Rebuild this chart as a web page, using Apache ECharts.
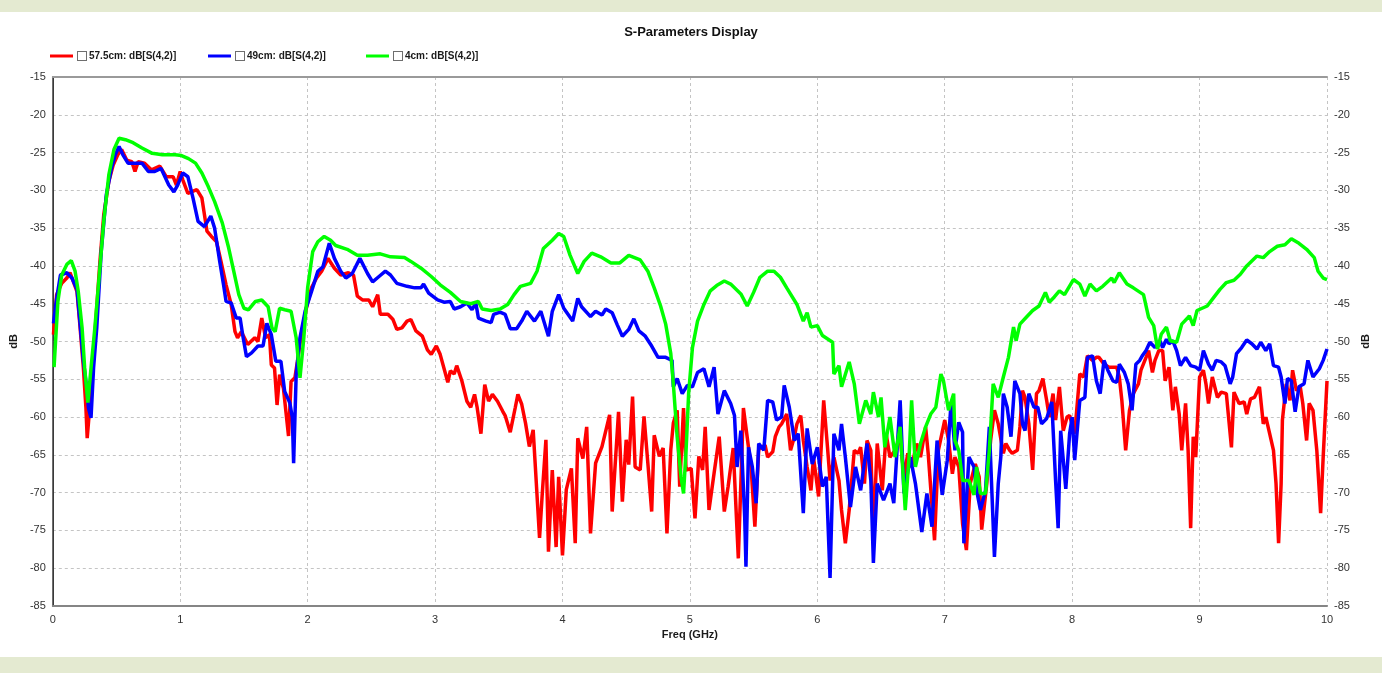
<!DOCTYPE html>
<html>
<head>
<meta charset="utf-8">
<title>S-Parameters Display</title>
<script src="https://cdn.jsdelivr.net/npm/echarts@6/dist/echarts.min.js"></script>
<style>
  html, body { margin: 0; padding: 0; background: #e4ead1; }
  #panel { position: absolute; left: 0; top: 12px; width: 1382px; height: 645px; background: #ffffff; }
  #chart { position: absolute; left: 0; top: 0; width: 1382px; height: 673px; }
</style>
</head>
<body>
<div id="panel"></div>
<div id="chart"></div>
<script>
// Frequency range (GHz) and magnitude range (dB) of the plot
const freqTicks = { min: 0, max: 10, interval: 1 };
const dbTicks = { min: -85, max: -15, interval: 5 };

const seriesNames = ['57.5cm: dB[S(4,2)]', '49cm: dB[S(4,2)]', '4cm: dB[S(4,2)]'];
const seriesColors = ['#ff0000', '#0000ff', '#00ff00'];

// [freq GHz, dB] samples of S(4,2) for the 57.5 cm trace
const trace575 = [
  [0.005,-49.1],[0.03,-43.8],[0.07,-42.3],[0.11,-41.6],[0.135,-40.9],[0.16,-42.0],[0.19,-43.4],[0.21,-47.3],[0.24,-53.5],[0.26,-58.8],
  [0.27,-62.8],[0.285,-59.7],[0.305,-56.2],[0.33,-49.1],[0.37,-39.4],[0.40,-33.2],[0.44,-28.8],[0.475,-26.6],[0.51,-25.3],[0.54,-24.6],
  [0.58,-26.0],[0.62,-26.2],[0.645,-27.5],[0.67,-26.2],[0.72,-26.4],[0.775,-27.3],[0.84,-26.8],[0.89,-28.2],[0.945,-28.2],[0.97,-29.3],
  [1.00,-27.5],[1.02,-28.6],[1.06,-30.4],[1.13,-29.9],[1.17,-31.0],[1.21,-35.4],[1.245,-36.1],[1.285,-36.8],[1.32,-39.4],[1.36,-42.5],
  [1.40,-45.1],[1.43,-48.7],[1.45,-49.5],[1.48,-48.7],[1.53,-50.4],[1.585,-49.5],[1.61,-50.0],[1.64,-46.9],[1.67,-49.5],[1.70,-49.1],
  [1.715,-53.1],[1.74,-53.5],[1.76,-58.4],[1.78,-54.4],[1.81,-56.2],[1.85,-62.5],[1.87,-55.3],[1.90,-54.8],[1.92,-52.6],[1.95,-49.1],
  [1.99,-45.6],[2.03,-42.9],[2.07,-41.6],[2.11,-40.7],[2.16,-39.0],[2.21,-40.3],[2.26,-41.2],[2.32,-40.9],[2.36,-41.2],[2.39,-44.0],
  [2.43,-44.5],[2.48,-44.5],[2.51,-45.4],[2.55,-43.8],[2.57,-46.4],[2.63,-46.4],[2.67,-47.1],[2.70,-48.4],[2.74,-48.2],[2.78,-47.3],
  [2.81,-47.1],[2.85,-48.6],[2.90,-49.3],[2.94,-51.1],[2.97,-51.7],[3.01,-50.6],[3.04,-51.7],[3.10,-55.4],[3.12,-53.9],[3.15,-54.3],
  [3.17,-53.2],[3.21,-55.2],[3.25,-57.9],[3.28,-58.7],[3.31,-57.0],[3.33,-58.7],[3.36,-62.2],[3.39,-55.7],[3.42,-57.9],[3.45,-57.0],
  [3.49,-57.9],[3.53,-59.2],[3.55,-59.8],[3.59,-62.0],[3.63,-58.7],[3.65,-57.0],[3.68,-58.3],[3.71,-60.8],[3.74,-63.9],[3.77,-61.7],
  [3.79,-67.4],[3.82,-76.0],[3.84,-70.5],[3.87,-63.0],[3.89,-77.8],[3.92,-67.0],[3.95,-77.2],[3.97,-67.9],[4.00,-78.3],[4.03,-69.6],
  [4.07,-66.8],[4.10,-76.7],[4.12,-62.8],[4.16,-65.5],[4.19,-61.3],[4.22,-75.4],[4.26,-66.1],[4.31,-63.9],[4.37,-59.7],[4.39,-72.5],
  [4.44,-59.3],[4.47,-71.2],[4.50,-63.0],[4.52,-66.3],[4.55,-57.3],[4.57,-66.6],[4.61,-67.0],[4.64,-59.9],[4.67,-66.1],[4.70,-72.5],
  [4.72,-62.4],[4.76,-65.2],[4.79,-64.1],[4.82,-75.4],[4.85,-64.3],[4.87,-60.8],[4.90,-59.1],[4.92,-69.2],[4.95,-58.8],[4.97,-67.0],
  [5.01,-66.8],[5.04,-73.4],[5.07,-65.2],[5.10,-67.0],[5.12,-61.3],[5.15,-72.3],[5.19,-67.4],[5.23,-62.6],[5.27,-72.5],[5.30,-69.2],
  [5.34,-64.1],[5.38,-78.7],[5.42,-58.8],[5.48,-66.6],[5.51,-74.5],[5.54,-64.3],[5.59,-63.7],[5.61,-65.3],[5.65,-64.6],[5.67,-62.6],
  [5.70,-61.3],[5.72,-60.9],[5.76,-59.6],[5.79,-64.4],[5.82,-62.6],[5.84,-60.9],[5.87,-59.8],[5.89,-63.1],[5.92,-66.6],[5.95,-69.7],
  [5.97,-65.3],[6.01,-70.5],[6.05,-57.8],[6.08,-64.0],[6.10,-68.4],[6.13,-65.3],[6.17,-68.4],[6.19,-72.3],[6.22,-76.7],[6.25,-72.3],
  [6.29,-64.4],[6.32,-64.8],[6.34,-64.0],[6.37,-68.8],[6.39,-63.1],[6.42,-64.4],[6.44,-75.8],[6.47,-63.5],[6.51,-69.7],[6.54,-62.2],
  [6.57,-65.3],[6.61,-64.4],[6.65,-62.6],[6.68,-67.9],[6.71,-64.8],[6.74,-66.6],[6.78,-63.5],[6.81,-65.3],[6.85,-61.3],[6.87,-64.8],
  [6.92,-76.3],[6.95,-64.4],[7.00,-60.4],[7.03,-63.1],[7.06,-67.5],[7.08,-65.3],[7.11,-66.6],[7.14,-74.1],[7.17,-77.6],[7.20,-68.8],
  [7.24,-66.2],[7.27,-67.9],[7.29,-74.9],[7.33,-68.8],[7.36,-63.1],[7.39,-59.1],[7.42,-60.9],[7.46,-64.8],[7.48,-63.5],[7.51,-64.4],
  [7.53,-64.8],[7.57,-64.4],[7.59,-61.3],[7.61,-56.5],[7.63,-57.4],[7.66,-60.9],[7.69,-67.0],[7.72,-56.9],[7.74,-56.5],[7.77,-54.9],
  [7.80,-57.8],[7.82,-60.0],[7.85,-56.9],[7.87,-60.4],[7.90,-56.0],[7.93,-61.8],[7.96,-60.0],[7.98,-59.8],[8.02,-62.2],[8.06,-54.3],
  [8.09,-54.7],[8.12,-51.9],[8.16,-52.5],[8.19,-52.1],[8.21,-52.1],[8.25,-53.0],[8.29,-53.4],[8.35,-53.4],[8.37,-54.7],[8.39,-57.8],
  [8.42,-64.4],[8.45,-59.1],[8.48,-56.9],[8.52,-55.6],[8.54,-53.8],[8.58,-52.1],[8.60,-51.2],[8.63,-54.1],[8.65,-52.5],[8.68,-51.2],
  [8.71,-51.2],[8.73,-55.2],[8.76,-53.4],[8.79,-59.1],[8.81,-56.0],[8.84,-59.6],[8.86,-64.4],[8.89,-58.2],[8.91,-64.4],[8.93,-74.7],
  [8.95,-62.6],[8.97,-65.3],[9.00,-54.7],[9.03,-53.8],[9.05,-55.6],[9.07,-58.2],[9.10,-54.7],[9.14,-57.4],[9.17,-56.7],[9.21,-56.9],
  [9.25,-64.0],[9.27,-56.7],[9.31,-58.2],[9.35,-58.0],[9.37,-59.6],[9.40,-57.6],[9.43,-57.4],[9.47,-56.0],[9.50,-60.9],[9.52,-60.0],
  [9.55,-62.2],[9.58,-64.4],[9.60,-68.8],[9.62,-76.7],[9.64,-68.8],[9.65,-60.4],[9.68,-55.6],[9.71,-57.8],[9.73,-53.8],[9.76,-56.5],
  [9.79,-56.0],[9.81,-58.2],[9.84,-63.1],[9.86,-58.2],[9.89,-59.1],[9.92,-64.4],[9.95,-72.7],[9.97,-65.3],[10.0,-55.2]
];

// [freq GHz, dB] samples of S(4,2) for the 49 cm trace
const trace49 = [
  [0.005,-47.6],[0.03,-44.3],[0.06,-41.2],[0.11,-40.9],[0.15,-41.6],[0.19,-43.1],[0.21,-46.9],[0.24,-52.6],[0.27,-56.6],[0.28,-58.8],
  [0.30,-60.1],[0.32,-53.5],[0.345,-48.2],[0.38,-38.1],[0.42,-30.6],[0.46,-27.1],[0.49,-25.3],[0.52,-24.2],[0.55,-25.3],[0.59,-26.4],
  [0.645,-26.4],[0.70,-26.4],[0.75,-27.5],[0.80,-27.5],[0.85,-27.1],[0.91,-29.3],[0.95,-30.2],[0.98,-29.3],[1.02,-27.7],[1.06,-28.2],
  [1.10,-31.0],[1.14,-34.1],[1.19,-34.8],[1.24,-33.4],[1.27,-35.0],[1.31,-39.4],[1.34,-42.5],[1.36,-44.7],[1.40,-44.9],[1.44,-46.9],
  [1.47,-46.9],[1.49,-49.1],[1.52,-52.0],[1.56,-51.5],[1.61,-50.6],[1.65,-50.6],[1.68,-47.6],[1.715,-49.1],[1.75,-52.6],[1.79,-52.6],
  [1.82,-56.6],[1.86,-58.1],[1.88,-60.1],[1.89,-66.1],[1.91,-54.4],[1.94,-49.5],[1.98,-46.0],[2.03,-43.4],[2.08,-40.7],[2.12,-40.1],
  [2.17,-37.0],[2.21,-39.0],[2.26,-40.7],[2.30,-41.6],[2.35,-41.0],[2.41,-39.0],[2.47,-41.0],[2.51,-42.1],[2.56,-41.4],[2.61,-40.7],
  [2.65,-41.2],[2.70,-42.3],[2.78,-42.7],[2.84,-42.9],[2.89,-42.9],[2.91,-42.4],[2.95,-43.6],[3.02,-44.5],[3.07,-44.8],[3.12,-44.7],
  [3.15,-45.7],[3.20,-45.4],[3.25,-44.9],[3.29,-45.8],[3.32,-44.9],[3.34,-46.9],[3.40,-47.3],[3.44,-47.5],[3.46,-46.4],[3.51,-46.1],
  [3.55,-46.4],[3.59,-48.3],[3.64,-48.3],[3.68,-47.3],[3.72,-46.0],[3.78,-47.3],[3.83,-46.0],[3.87,-48.2],[3.89,-49.3],[3.92,-46.0],
  [3.97,-43.8],[4.01,-45.6],[4.08,-47.3],[4.12,-44.3],[4.15,-45.4],[4.22,-46.7],[4.26,-46.0],[4.31,-46.5],[4.34,-45.7],[4.39,-46.2],
  [4.43,-47.8],[4.47,-49.3],[4.52,-48.4],[4.56,-47.0],[4.60,-48.6],[4.65,-49.3],[4.70,-50.6],[4.75,-52.1],[4.81,-52.1],[4.86,-52.5],
  [4.87,-56.0],[4.90,-54.9],[4.94,-56.9],[4.98,-55.8],[5.02,-56.0],[5.06,-54.1],[5.11,-53.6],[5.15,-56.0],[5.19,-53.4],[5.22,-59.6],
  [5.27,-56.5],[5.32,-58.2],[5.35,-59.8],[5.37,-66.6],[5.40,-61.8],[5.43,-73.2],[5.44,-79.8],[5.46,-64.0],[5.49,-66.6],[5.52,-71.4],
  [5.54,-63.5],[5.58,-64.4],[5.61,-57.8],[5.65,-58.0],[5.68,-60.4],[5.72,-60.0],[5.74,-55.8],[5.78,-58.7],[5.82,-63.1],[5.85,-62.2],
  [5.89,-72.7],[5.92,-61.5],[5.96,-66.2],[6.00,-64.0],[6.04,-69.2],[6.07,-67.9],[6.10,-81.3],[6.13,-62.2],[6.17,-64.4],[6.19,-60.9],
  [6.22,-65.3],[6.26,-71.9],[6.30,-66.6],[6.34,-69.7],[6.39,-63.5],[6.42,-68.4],[6.44,-79.3],[6.47,-68.8],[6.52,-71.0],[6.57,-68.8],
  [6.60,-71.4],[6.65,-57.8],[6.68,-70.1],[6.73,-65.3],[6.77,-68.8],[6.82,-75.2],[6.86,-70.1],[6.90,-74.5],[6.94,-63.1],[6.98,-70.3],
  [7.02,-65.7],[7.05,-58.0],[7.08,-64.4],[7.11,-60.7],[7.14,-62.0],[7.15,-76.7],[7.19,-65.3],[7.23,-66.6],[7.25,-69.7],[7.28,-72.3],
  [7.32,-69.7],[7.35,-61.3],[7.39,-78.5],[7.42,-68.8],[7.44,-65.3],[7.46,-56.9],[7.49,-58.7],[7.52,-62.6],[7.55,-55.2],[7.59,-56.9],
  [7.61,-60.9],[7.63,-61.8],[7.66,-56.9],[7.70,-58.7],[7.73,-58.7],[7.76,-60.9],[7.80,-60.2],[7.84,-58.0],[7.87,-68.4],[7.89,-74.7],
  [7.91,-61.8],[7.95,-69.5],[7.98,-62.2],[8.00,-60.0],[8.02,-65.7],[8.06,-57.8],[8.10,-57.4],[8.12,-52.1],[8.16,-51.9],[8.19,-55.2],
  [8.22,-56.9],[8.25,-52.5],[8.28,-53.8],[8.32,-55.2],[8.35,-55.4],[8.37,-53.0],[8.41,-54.1],[8.44,-55.6],[8.47,-59.1],[8.50,-53.0],
  [8.53,-52.5],[8.55,-51.9],[8.58,-51.2],[8.61,-50.1],[8.65,-50.8],[8.69,-49.9],[8.71,-50.8],[8.74,-49.7],[8.76,-50.3],[8.79,-49.9],
  [8.82,-51.2],[8.85,-53.2],[8.89,-52.1],[8.93,-53.2],[8.97,-53.4],[9.00,-53.8],[9.03,-51.2],[9.07,-53.0],[9.10,-53.8],[9.13,-52.5],
  [9.17,-52.7],[9.20,-53.2],[9.24,-55.6],[9.26,-54.7],[9.29,-51.6],[9.33,-50.8],[9.37,-49.8],[9.41,-50.3],[9.45,-51.0],[9.48,-50.1],
  [9.52,-51.2],[9.55,-50.3],[9.58,-53.2],[9.62,-53.4],[9.64,-54.7],[9.67,-58.2],[9.69,-54.9],[9.72,-55.2],[9.75,-59.3],[9.78,-56.0],
  [9.82,-55.6],[9.85,-52.5],[9.89,-54.7],[9.94,-53.6],[9.97,-52.5],[10.0,-51.0]
];

// [freq GHz, dB] samples of S(4,2) for the 4 cm trace
const trace4 = [
  [0.01,-53.4],[0.04,-44.7],[0.07,-41.2],[0.11,-39.8],[0.145,-39.3],[0.175,-40.7],[0.20,-43.4],[0.23,-48.2],[0.25,-53.5],[0.275,-58.1],
  [0.30,-53.5],[0.33,-48.2],[0.365,-41.2],[0.40,-34.1],[0.44,-27.9],[0.48,-24.6],[0.52,-23.1],[0.57,-23.3],[0.63,-23.7],[0.70,-24.4],
  [0.78,-25.1],[0.86,-25.3],[0.96,-25.3],[1.01,-25.4],[1.065,-25.8],[1.12,-26.4],[1.17,-27.7],[1.22,-29.5],[1.27,-31.5],[1.33,-34.3],
  [1.38,-37.6],[1.42,-40.7],[1.46,-43.8],[1.50,-45.6],[1.535,-45.8],[1.59,-44.7],[1.64,-44.5],[1.69,-45.4],[1.72,-48.2],[1.745,-48.7],
  [1.78,-45.6],[1.82,-45.8],[1.87,-46.0],[1.91,-49.5],[1.94,-54.8],[1.97,-49.5],[2.00,-42.9],[2.04,-38.1],[2.08,-36.8],[2.13,-36.1],
  [2.18,-36.6],[2.22,-37.3],[2.31,-37.8],[2.39,-38.6],[2.47,-38.6],[2.57,-38.4],[2.65,-38.8],[2.76,-38.9],[2.81,-39.4],[2.89,-40.3],
  [2.97,-41.4],[3.04,-42.5],[3.12,-43.5],[3.20,-44.7],[3.28,-45.0],[3.34,-44.7],[3.37,-45.7],[3.44,-45.9],[3.51,-45.7],[3.57,-45.1],
  [3.62,-43.8],[3.67,-42.7],[3.75,-42.3],[3.80,-40.7],[3.85,-37.7],[3.92,-36.6],[3.97,-35.7],[4.01,-36.1],[4.06,-38.6],[4.12,-41.0],
  [4.17,-39.4],[4.23,-38.3],[4.30,-38.8],[4.38,-39.6],[4.45,-39.6],[4.52,-38.6],[4.61,-39.2],[4.67,-40.7],[4.72,-42.9],[4.77,-45.3],
  [4.81,-47.7],[4.85,-51.6],[4.87,-55.6],[4.90,-62.6],[4.93,-67.9],[4.95,-70.1],[4.97,-64.4],[4.99,-56.9],[5.02,-50.8],[5.06,-47.3],
  [5.11,-45.1],[5.16,-43.3],[5.21,-42.6],[5.27,-42.0],[5.32,-42.4],[5.40,-43.7],[5.45,-45.3],[5.50,-43.5],[5.55,-41.5],[5.61,-40.7],
  [5.66,-40.7],[5.71,-41.5],[5.76,-42.9],[5.84,-45.1],[5.89,-47.3],[5.92,-46.2],[5.95,-48.1],[6.00,-47.9],[6.04,-49.2],[6.12,-50.1],
  [6.13,-54.3],[6.17,-53.2],[6.19,-56.0],[6.25,-52.7],[6.29,-55.6],[6.33,-60.9],[6.38,-57.8],[6.42,-59.6],[6.44,-56.7],[6.48,-60.0],
  [6.50,-57.4],[6.53,-64.0],[6.57,-60.0],[6.61,-65.3],[6.65,-61.3],[6.69,-72.3],[6.72,-65.3],[6.74,-57.8],[6.77,-66.6],[6.81,-63.5],
  [6.85,-61.3],[6.89,-59.6],[6.93,-58.7],[6.97,-54.3],[6.99,-55.2],[7.03,-59.1],[7.07,-56.9],[7.08,-63.1],[7.11,-64.4],[7.14,-68.4],
  [7.19,-68.4],[7.23,-70.3],[7.25,-66.6],[7.28,-70.1],[7.32,-70.1],[7.35,-64.4],[7.38,-55.6],[7.42,-57.4],[7.46,-54.7],[7.50,-52.1],
  [7.54,-48.1],[7.56,-49.9],[7.59,-47.7],[7.64,-46.8],[7.69,-45.9],[7.74,-45.3],[7.79,-43.5],[7.82,-44.8],[7.86,-44.1],[7.90,-43.3],
  [7.94,-43.8],[8.01,-41.8],[8.06,-42.4],[8.10,-44.0],[8.14,-42.4],[8.19,-43.3],[8.24,-42.7],[8.31,-41.6],[8.33,-42.2],[8.37,-40.9],
  [8.43,-42.4],[8.48,-42.9],[8.56,-43.8],[8.60,-46.8],[8.64,-47.9],[8.67,-51.0],[8.70,-49.0],[8.74,-48.1],[8.77,-49.9],[8.82,-50.1],
  [8.86,-47.7],[8.90,-47.0],[8.92,-46.6],[8.95,-47.9],[8.98,-45.9],[9.06,-45.3],[9.11,-44.2],[9.16,-43.1],[9.21,-42.2],[9.27,-41.9],
  [9.32,-41.1],[9.37,-40.0],[9.45,-38.7],[9.50,-38.9],[9.55,-38.1],[9.61,-37.4],[9.67,-37.2],[9.72,-36.4],[9.78,-37.0],[9.84,-37.8],
  [9.90,-38.9],[9.93,-40.7],[9.97,-41.6],[10.0,-41.8]
];

const traces = [trace575, trace49, trace4];

const FONT = '"Liberation Sans", Arial, sans-serif';
const chart = echarts.init(document.getElementById('chart'), null, { renderer: 'canvas' });

// one legend block per trace: coloured line, an unchecked box, then the bold name
const legendLefts = [50, 208, 366];
const legends = seriesNames.map((name, i) => ({
  data: [name],
  left: legendLefts[i],
  top: 50,
  padding: 0,
  icon: 'rect',
  itemWidth: 23,
  itemHeight: 3,
  selectedMode: false,
  formatter: '{box| }{txt|' + name + '}',
  textStyle: {
    rich: {
      box: { width: 8, height: 8, borderColor: '#6e6e6e', borderWidth: 1, backgroundColor: '#ffffff' },
      txt: { fontFamily: FONT, fontSize: 10, fontWeight: 'bold', color: '#1a1a1a', padding: [0, 0, 0, 3] }
    }
  }
}));

const axisLabelStyle = { fontFamily: FONT, fontSize: 11, color: '#333333' };
const gridLine = { show: true, lineStyle: { color: '#c4c4c4', type: [3, 3], width: 1 } };

chart.setOption({
  animation: false,
  backgroundColor: 'transparent',
  title: {
    text: 'S-Parameters Display',
    left: 'center',
    top: 21,
    textStyle: { fontFamily: FONT, fontSize: 13, fontWeight: 'bold', color: '#111111' }
  },
  legend: legends,
  grid: { left: 51, right: 55, top: 77, bottom: 67, containLabel: false },
  xAxis: [
    {
      type: 'value', position: 'bottom',
      min: freqTicks.min, max: freqTicks.max, interval: freqTicks.interval,
      name: 'Freq (GHz)', nameLocation: 'middle', nameGap: 22,
      nameTextStyle: { fontFamily: FONT, fontSize: 11, fontWeight: 'bold', color: '#1a1a1a' },
      axisLine: { show: true, lineStyle: { color: '#858585', width: 2 } },
      axisTick: { show: false },
      axisLabel: Object.assign({ margin: 8 }, axisLabelStyle),
      splitLine: gridLine
    },
    {
      type: 'value', position: 'top',
      min: freqTicks.min, max: freqTicks.max, interval: freqTicks.interval,
      axisLine: { show: true, lineStyle: { color: '#9a9a9a', width: 2 } },
      axisTick: { show: false }, axisLabel: { show: false }, splitLine: { show: false }
    }
  ],
  yAxis: [
    {
      type: 'value', position: 'left',
      min: dbTicks.min, max: dbTicks.max, interval: dbTicks.interval,
      name: 'dB', nameLocation: 'middle', nameGap: 26, nameRotate: 90,
      nameTextStyle: { fontFamily: FONT, fontSize: 11, fontWeight: 'bold', color: '#1a1a1a' },
      axisLine: { show: true, lineStyle: { color: '#6e6e6e', width: 2 } },
      axisTick: { show: false },
      axisLabel: Object.assign({ margin: 7 }, axisLabelStyle),
      splitLine: gridLine
    },
    {
      type: 'value', position: 'right',
      min: dbTicks.min, max: dbTicks.max, interval: dbTicks.interval,
      name: 'dB', nameLocation: 'middle', nameGap: 33, nameRotate: 90,
      nameTextStyle: { fontFamily: FONT, fontSize: 11, fontWeight: 'bold', color: '#1a1a1a' },
      axisLine: { show: true, lineStyle: { color: '#3a3a3a', width: 1 } },
      axisTick: { show: false },
      axisLabel: Object.assign({ margin: 7 }, axisLabelStyle),
      splitLine: { show: false }
    }
  ],
  series: traces.map((data, i) => ({
    name: seriesNames[i],
    type: 'line',
    xAxisIndex: 0,
    yAxisIndex: 0,
    data: data,
    showSymbol: false,
    symbol: 'none',
    color: seriesColors[i],
    lineStyle: { color: seriesColors[i], width: 3.5 },
    z: 2 + i
  }))
});
</script>
</body>
</html>
